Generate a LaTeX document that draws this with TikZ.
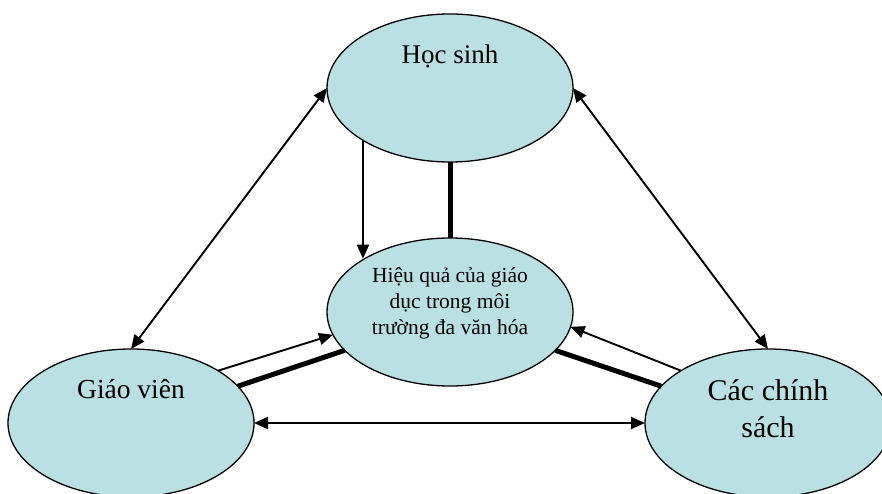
\documentclass[tikz,border=0pt]{standalone}
\usepackage{fontspec}
\setmainfont{Liberation Serif}
\usetikzlibrary{shapes.geometric,arrows.meta}
\definecolor{ellfill}{RGB}{186,224,228}
\tikzset{
  ell/.style={ellipse, draw=black, line width=1.3pt, fill=ellfill, minimum width=246pt, minimum height=148pt, inner sep=0pt, outer sep=0pt},
  thin/.style={line width=1.9pt},
  thick/.style={line width=5pt},
  tip/.style={-{Triangle[length=14pt,width=12pt]}},
  tips/.style={{Triangle[length=14pt,width=12pt]}-{Triangle[length=14pt,width=12pt]}},
  lbl/.style={inner sep=0pt, align=center, text=black}
}
\begin{document}
\begin{tikzpicture}[x=1pt,y=-1pt]
\useasboundingbox (0,0) rectangle (882,494);
\node[ell] (hs) at (450,88) {};
\node[ell] (ce) at (450,312) {};
\node[ell] (gv) at (131,423) {};
\node[ell] (cs) at (768,423) {};
% labels
\node[lbl, anchor=base, font=\fontsize{27}{32}\selectfont] (hst) at (450,64) {Học sinh};
\node[lbl, anchor=center, font=\fontsize{21.5}{26}\selectfont] (cet) at (450,303) {Hiệu quả của giáo\\dục trong môi\\trường đa văn hóa};
\node[lbl, anchor=center, font=\fontsize{27.5}{32}\selectfont] (gvt) at (131,389) {Giáo viên};
\node[lbl, anchor=center, font=\fontsize{30}{37}\selectfont] (cst) at (768,409) {Các chính\\sách};
% connectors
\draw[thin, tips] (hs.west) -- (gv.north);
\draw[thin, tips] (hs.east) -- (cs.north);
\draw[thin, tips] (gv.east) -- (cs.west);
\draw[thin, tip] (hs.211) -- (hs.211 |- ce.148);
\draw[thick] (hs.south) -- (ce.north);
\draw[thin, tip] (gv.31) -- (ce.191);
\draw[thick] (gv.19) -- (ce.200);
\draw[thin, tip] (cs.149) -- (ce.353);
\draw[thick] (cs.161) -- (ce.340);
\end{tikzpicture}
\end{document}
